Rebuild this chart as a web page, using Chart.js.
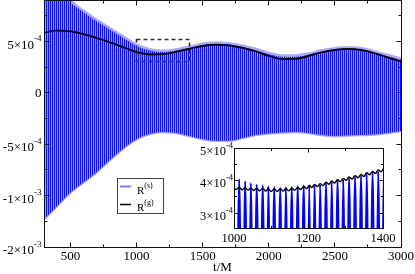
<!DOCTYPE html>
<html>
<head>
<meta charset="utf-8">
<script src="https://cdn.jsdelivr.net/npm/chart.js@4.4.1/dist/chart.umd.min.js"></script>
<style>
  html, body { margin: 0; padding: 0; background: #fff; }
  #wrap { position: relative; width: 415px; height: 274px; }
  #mainChart { position: absolute; left: 0; top: 0; }
  #insetChart { position: absolute; left: 190px; top: 138px; }
</style>
</head>
<body>
<div id="wrap">
  <canvas id="mainChart" width="415" height="274"></canvas>
  <canvas id="insetChart" width="225" height="117"></canvas>
</div>
<script>
// all R values below are in units of 1e-4

// main panel: envelope of the fast R^(s) oscillation and the smooth R^(g) curve
const envT = [300, 400, 500, 600, 700, 800, 900, 1000, 1100, 1200, 1300, 1400, 1500, 1600,
  1700, 1800, 1900, 2000, 2100, 2200, 2300, 2400, 2500, 2600, 2700, 2800, 2900, 3000];
const rsUpper = [13.0, 10.5, 9.0, 8.0, 7.1, 6.3, 5.5, 4.7, 4.25, 4.1, 4.25, 4.5, 4.8, 4.9,
  4.85, 4.6, 4.3, 3.9, 3.65, 3.65, 3.85, 4.15, 4.35, 4.45, 4.35, 4.05, 3.7, 3.35];
const rsLower = [-12.3, -11.0, -9.7, -8.7, -7.7, -6.5, -5.4, -4.5, -4.0, -3.8, -3.9, -4.2, -4.5, -4.65,
  -4.65, -4.4, -4.1, -3.95, -3.85, -3.8, -3.9, -4.1, -4.2, -4.15, -4.1, -4.05, -3.9, -3.7];
const rgMain = [5.85, 6.08, 6.0, 5.72, 5.35, 4.92, 4.45, 3.98, 3.75, 3.78, 4.0, 4.3, 4.58, 4.68,
  4.62, 4.4, 4.05, 3.62, 3.3, 3.32, 3.6, 3.95, 4.17, 4.27, 4.17, 3.85, 3.45, 3.05];

// zoom box drawn on the main panel (t range, R range)
const boxT = [1000, 1400];
const boxR = [3.05, 5.25];

// inset: individual oscillations (troughs and peaks alternate)
const insetT = [1006, 1014, 1022, 1030, 1038, 1045, 1053, 1061, 1069, 1077, 1085, 1092, 1100,
  1108, 1116, 1124, 1132, 1139, 1147, 1155, 1163, 1171, 1179, 1187, 1195, 1202, 1209, 1216,
  1224, 1231, 1239, 1247, 1255, 1262, 1270, 1278, 1286, 1293, 1301, 1309, 1317, 1325, 1333,
  1341, 1349, 1356, 1364, 1372, 1380, 1387, 1395, 1402, 1410];
const insetRs = [-4.5, 4.04, -4.45, 3.98, -4.4, 3.93, -4.35, 3.88, -4.3, 3.86, -4.25, 3.84, -4.2,
  3.81, -4.15, 3.79, -4.1, 3.81, -4.05, 3.81, -4.0, 3.84, -4.0, 3.86, -3.95, 3.86, -3.95, 3.87,
  -3.95, 3.89, -3.95, 3.93, -4.0, 3.97, -4.0, 4.01, -4.05, 4.04, -4.05, 4.08, -4.1, 4.11, -4.1,
  4.15, -4.15, 4.2, -4.15, 4.24, -4.2, 4.29, -4.2, 4.34, -4.25];
const insetGT = [1000].concat(insetT);
const insetRg = [3.77, 3.73, 3.80, 3.72, 3.79, 3.71, 3.78, 3.70, 3.77, 3.69, 3.76, 3.68, 3.75,
  3.67, 3.75, 3.67, 3.75, 3.68, 3.76, 3.69, 3.77, 3.71, 3.79, 3.73, 3.82, 3.76, 3.85, 3.79, 3.88,
  3.82, 3.91, 3.85, 3.95, 3.89, 3.99, 3.93, 4.03, 3.97, 4.07, 4.01, 4.11, 4.05, 4.15, 4.09, 4.19,
  4.13, 4.24, 4.18, 4.28, 4.22, 4.33, 4.27, 4.38, 4.32];

// ticks and tick labels
const mainXMajor = [500, 1000, 1500, 2000, 2500, 3000];
const mainXMinor = [750, 1250, 1750, 2250, 2750];
const mainYMajor = [-15, -10, -5, 0, 5];
const mainYMinor = [-12.5, -7.5, -2.5, 2.5, 7.5];
const mainYLabelVal = [5, 0, -5, -10, -15];
const mainYLabelBase = ['5×10', '0', '-5×10', '-1×10', '-2×10'];
const mainYLabelExp = ['-4', '', '-4', '-3', '-3'];

const insetXMajor = [1000, 1200, 1400];
const insetXMinor = [1100, 1300];
const insetYMajor = [3, 4, 5];
const insetYMinor = [3.5, 4.5];
const insetYLabelBase = ['3×10', '4×10', '5×10'];
const insetYLabelExp = ['-4', '-4', '-4'];

const UNIT = 1e-4;
const toPts = (xs, ys) => xs.map((x, i) => ({ x: x, y: ys[i] * UNIT }));

const SERIF = '"Liberation Serif", "DejaVu Serif", serif';

function edge(v) { return Math.floor(v) + 0.5; }

// frame with inward ticks on all four sides, plus tick labels with superscripts
function drawAxes(chart, o) {
  const { ctx, chartArea: a } = chart;
  const sx = chart.scales.x, sy = chart.scales.y;
  const L = edge(a.left), R = edge(a.right), T = edge(a.top), B = edge(a.bottom);
  ctx.save();
  ctx.strokeStyle = '#111';
  ctx.lineWidth = 1;
  ctx.strokeRect(L, T, R - L, B - T);

  ctx.beginPath();
  const xt = (vals, len) => vals.forEach(v => {
    const p = edge(sx.getPixelForValue(v));
    ctx.moveTo(p, B); ctx.lineTo(p, B - len);
    ctx.moveTo(p, T); ctx.lineTo(p, T + len);
  });
  const yt = (vals, len) => vals.forEach(v => {
    const p = edge(sy.getPixelForValue(v * UNIT));
    ctx.moveTo(L, p); ctx.lineTo(L + len, p);
    ctx.moveTo(R, p); ctx.lineTo(R - len, p);
  });
  xt(o.xMajor, o.major); xt(o.xMinor, o.minor);
  yt(o.yMajor, o.major); yt(o.yMinor, o.minor);
  ctx.stroke();

  ctx.fillStyle = '#000';
  ctx.textBaseline = 'alphabetic';
  // x labels
  ctx.font = o.font;
  ctx.textAlign = 'center';
  o.xLabels.forEach(v => ctx.fillText(String(v), sx.getPixelForValue(v), o.xLabelY));
  // y labels
  ctx.textAlign = 'left';
  o.yLabelVal.forEach((v, i) => {
    const py = sy.getPixelForValue(v * UNIT);
    const base = o.yBase[i], exp = o.yExp[i];
    ctx.font = o.supFont;
    const we = exp ? ctx.measureText(exp).width : 0;
    ctx.font = o.font;
    const wb = ctx.measureText(base).width;
    const x0 = o.yLabelRight - we - wb;
    if (exp) {
      ctx.fillText(base, x0, py + o.baseDy);
      ctx.font = o.supFont;
      ctx.fillText(exp, x0 + wb, py + o.supDy);
    } else {
      ctx.fillText(base, x0, py + o.plainDy);
    }
  });
  ctx.restore();
}

function drawZoomBox(chart) {
  const { ctx } = chart;
  const sx = chart.scales.x, sy = chart.scales.y;
  const x0 = edge(sx.getPixelForValue(boxT[0])), x1 = edge(sx.getPixelForValue(boxT[1]));
  const y0 = edge(sy.getPixelForValue(boxR[1] * UNIT)), y1 = edge(sy.getPixelForValue(boxR[0] * UNIT));
  ctx.save();
  ctx.strokeStyle = '#303030';
  ctx.lineWidth = 1.6;
  ctx.setLineDash([4, 3]);
  ctx.strokeRect(x0, y0, x1 - x0, y1 - y0);
  ctx.restore();
}

function drawLegend(ctx) {
  ctx.save();
  ctx.strokeStyle = '#444';
  ctx.lineWidth = 1;
  ctx.strokeRect(117.5, 178.5, 46, 35);
  ctx.lineWidth = 2;
  ctx.strokeStyle = '#7f7fff';
  ctx.beginPath(); ctx.moveTo(120, 186.5); ctx.lineTo(131, 186.5); ctx.stroke();
  ctx.lineWidth = 1.5;
  ctx.strokeStyle = '#000';
  ctx.beginPath(); ctx.moveTo(120, 204.5); ctx.lineTo(131, 204.5); ctx.stroke();
  ctx.fillStyle = '#000';
  ctx.font = '11px ' + SERIF;
  ctx.fillText('R', 137, 194);
  ctx.fillText('R', 137, 211);
  const w = ctx.measureText('R').width;
  ctx.font = '8px ' + SERIF;
  ctx.fillText('(s)', 137 + w, 187.5);
  ctx.fillText('(g)', 137 + w, 204.5);
  ctx.restore();
}

function stripePattern(ctx) {
  const c = document.createElement('canvas');
  c.width = 2; c.height = 1;
  const g = c.getContext('2d');
  g.fillStyle = '#0c0cff'; g.fillRect(0, 0, 1, 1);
  g.fillStyle = '#9a9aff'; g.fillRect(1, 0, 1, 1);
  return ctx.createPattern(c, 'repeat');
}

const mainCtx = document.getElementById('mainChart').getContext('2d');

new Chart(mainCtx, {
  type: 'line',
  data: {
    datasets: [
      {
        label: 'R(g)', data: toPts(envT, rgMain), borderColor: '#000', borderWidth: 2,
        pointRadius: 0, cubicInterpolationMode: 'monotone', fill: false, order: 0, clip: 0
      },
      {
        label: 'R(s) upper', data: toPts(envT, rsUpper), borderColor: '#acacff', borderWidth: 2.5,
        pointRadius: 0, cubicInterpolationMode: 'monotone', fill: '+1',
        backgroundColor: stripePattern(mainCtx), order: 2, clip: 0
      },
      {
        label: 'R(s) lower', data: toPts(envT, rsLower), borderColor: '#acacff', borderWidth: 2.5,
        pointRadius: 0, cubicInterpolationMode: 'monotone', fill: false, order: 3, clip: 0
      }
    ]
  },
  options: {
    responsive: false,
    animation: false,
    devicePixelRatio: 1,
    layout: { padding: { left: 44, right: 14, top: 0.5, bottom: 27 } },
    plugins: { legend: { display: false }, tooltip: { enabled: false } },
    scales: {
      x: { type: 'linear', min: 300, max: 3000, display: false },
      y: { type: 'linear', min: -15e-4, max: 9e-4, display: false }
    }
  },
  plugins: [{
    id: 'mainAxes',
    afterDraw(chart) {
      drawZoomBox(chart);
      drawAxes(chart, {
        xMajor: mainXMajor, xMinor: mainXMinor, yMajor: mainYMajor, yMinor: mainYMinor,
        major: 5, minor: 3,
        xLabels: mainXMajor, xLabelY: 260,
        yLabelVal: mainYLabelVal, yBase: mainYLabelBase, yExp: mainYLabelExp,
        yLabelRight: 41.5, baseDy: 7, supDy: -0.5, plainDy: 4.3,
        font: '13px ' + SERIF, supFont: '9px ' + SERIF
      });
      const ctx = chart.ctx;
      ctx.save();
      ctx.font = '13px ' + SERIF;
      ctx.fillStyle = '#000';
      ctx.textAlign = 'center';
      ctx.fillText('t/M', (chart.chartArea.left + chart.chartArea.right) / 2, 271);
      ctx.restore();
      drawLegend(ctx);
    }
  }]
});

new Chart(document.getElementById('insetChart').getContext('2d'), {
  type: 'line',
  data: {
    datasets: [
      {
        label: 'R(g)', data: toPts(insetGT, insetRg), borderColor: '#000', borderWidth: 1.4,
        pointRadius: 0, cubicInterpolationMode: 'monotone', fill: false, order: 0, clip: 0
      },
      {
        label: 'R(s)', data: toPts(insetT, insetRs), borderColor: '#0000ff', borderWidth: 2,
        pointRadius: 0, cubicInterpolationMode: 'monotone', fill: false, order: 1, clip: 0
      }
    ]
  },
  options: {
    responsive: false,
    animation: false,
    devicePixelRatio: 1,
    layout: { padding: { left: 44, right: 32, top: 10, bottom: 27 } },
    plugins: { legend: { display: false }, tooltip: { enabled: false } },
    scales: {
      x: { type: 'linear', min: 1000, max: 1400, display: false },
      y: { type: 'linear', min: 2.55e-4, max: 5e-4, display: false }
    }
  },
  plugins: [{
    id: 'insetAxes',
    afterDraw(chart) {
      drawAxes(chart, {
        xMajor: insetXMajor, xMinor: insetXMinor, yMajor: insetYMajor, yMinor: insetYMinor,
        major: 4, minor: 2.5,
        xLabels: insetXMajor, xLabelY: 103.5,
        yLabelVal: insetYMajor, yBase: insetYLabelBase, yExp: insetYLabelExp,
        yLabelRight: 43, baseDy: 6.5, supDy: -0.5, plainDy: 4,
        font: '12.5px ' + SERIF, supFont: '8.5px ' + SERIF
      });
    }
  }]
});
</script>
</body>
</html>
